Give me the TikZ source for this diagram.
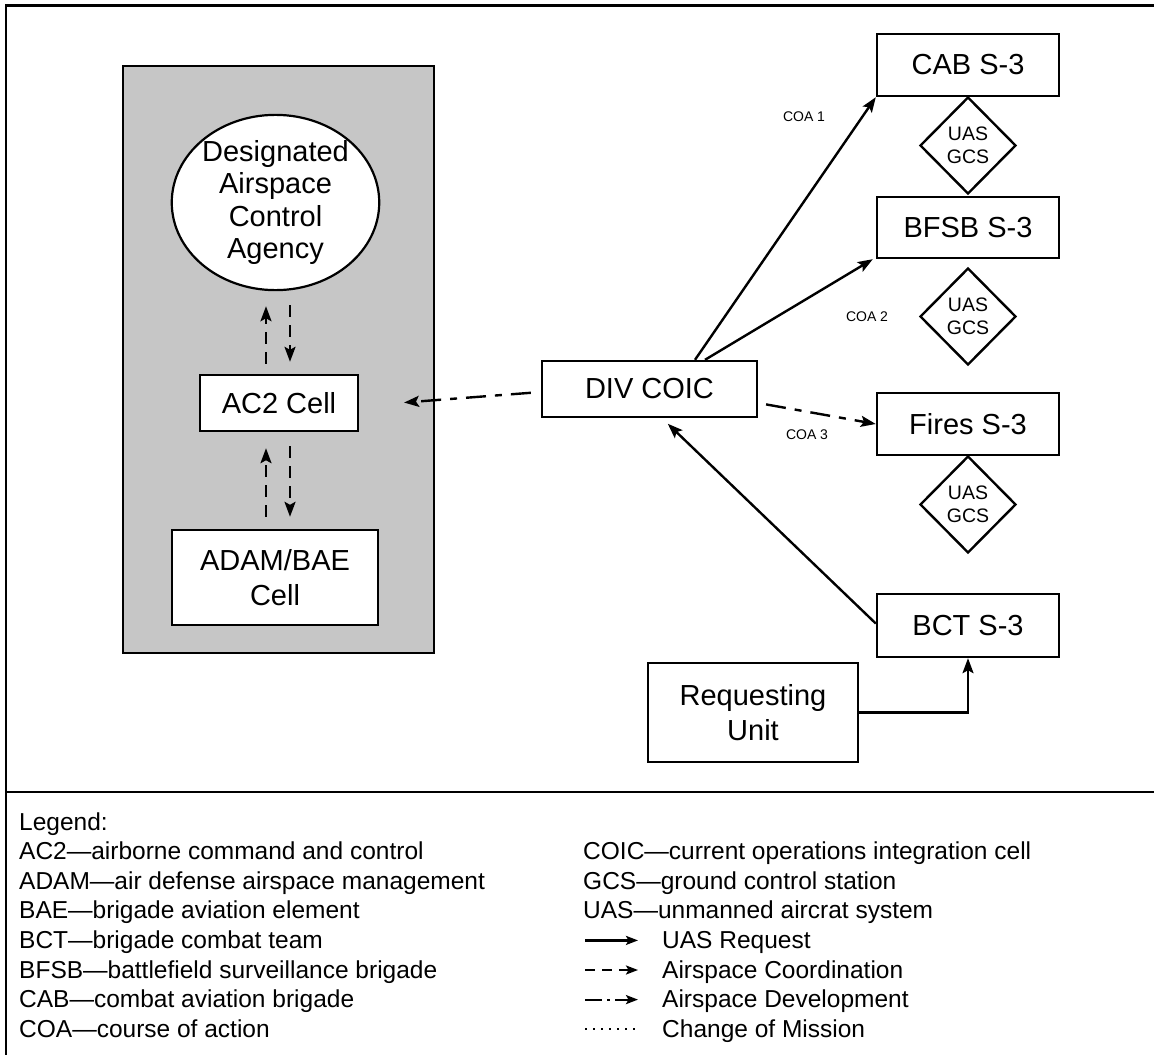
\documentclass[tikz,border=0pt]{standalone}
\usepackage{fontspec}
\setmainfont{Liberation Sans}
\usetikzlibrary{arrows.meta,shapes.geometric}
\definecolor{panelgray}{RGB}{198,198,198}
\begin{document}
\begin{tikzpicture}[x=1pt,y=-1pt,
  frame/.style={line width=2.4pt},
  panel/.style={draw, line width=2pt, fill=panelgray, inner sep=0pt},
  box/.style={draw, line width=2.4pt, fill=white, inner sep=0pt, align=center,
    font=\fontsize{29}{35}\selectfont},
  agency/.style={ellipse, draw, line width=2.2pt, fill=white, inner sep=0pt, align=center,
    font=\fontsize{29}{32.3}\selectfont},
  gcs/.style={diamond, draw, line width=2.4pt, fill=white, inner sep=0pt, align=center,
    minimum width=96pt, minimum height=97pt, font=\fontsize{19.5}{22.7}\selectfont},
  coalabel/.style={inner sep=0pt, font=\fontsize{14}{16}\selectfont},
  tip/.style={-{Stealth[length=15pt,width=11pt,inset=3pt]}},
  request/.style={line width=2.4pt, tip},
  coordination/.style={line width=2.4pt, dash pattern=on 12pt off 8pt, tip},
  development/.style={line width=2.4pt, dash pattern=on 20pt off 9pt on 7pt off 9pt, tip},
  legtext/.style={anchor=base west, inner sep=0pt, font=\fontsize{24.5}{29.6}\selectfont},
  legtip/.style={-{Stealth[length=12pt,width=9pt,inset=2.5pt]}},
]
\useasboundingbox (0,0) rectangle (1154,1055);
\fill[white] (0,0) rectangle (1154,1055);

% outer frame and legend separator
\draw[frame] (1154,5.5) -- (6,5.5) -- (6,1055);
\draw[frame] (6,792) -- (1154,792);

% airspace control panel
\node[panel, minimum width=311pt, minimum height=587pt] (adcpanel) at (278.5,359.5) {};
\node[agency, minimum width=205pt, minimum height=171pt] (dasp) at (275.5,202.5)
  {Designated\\Airspace\\Control\\Agency};
\node[box, minimum width=158pt, minimum height=56pt] (ac2) at (279,403) {AC2 Cell};
\node[box, minimum width=206pt, minimum height=95pt] (adam) at (275,577.5) {ADAM/BAE\\Cell};

% operations cells
\node[box, minimum width=215pt, minimum height=56pt] (div) at (649.5,389) {DIV COIC};
\node[box, minimum width=182pt, minimum height=62pt] (cab) at (968,65) {CAB S-3};
\node[box, minimum width=182pt, minimum height=61pt] (bfsb) at (968,227.5) {BFSB S-3};
\node[box, minimum width=182pt, minimum height=62pt] (fires) at (968,424) {Fires S-3};
\node[box, minimum width=182pt, minimum height=63pt] (bct) at (968,625.5) {BCT S-3};
\node[box, minimum width=210pt, minimum height=99pt] (req) at (753,712.5) {Requesting\\Unit};

% ground control stations
\node[gcs] (gcs1) at (968,145.5) {UAS\\GCS};
\node[gcs] (gcs2) at (968,316.5) {UAS\\GCS};
\node[gcs] (gcs3) at (968,504.5) {UAS\\GCS};

% course of action labels
\node[coalabel] (coa1) at (804,117) {COA 1};
\node[coalabel] (coa2) at (867,317) {COA 2};
\node[coalabel] (coa3) at (807,435) {COA 3};

% coordination inside the panel
\coordinate (ua) at (266,0);
\coordinate (da) at (290,0);
\draw[coordination, shorten <=10pt, shorten >=15pt] (ac2.north -| ua) -- (dasp.south -| ua);
\draw[coordination, shorten <=14pt, shorten >=12pt] (dasp.south -| da) -- (ac2.north -| da);
\draw[coordination, shorten <=12pt, shorten >=16pt] (adam.north -| ua) -- (ac2.south -| ua);
\draw[coordination, shorten <=14pt, shorten >=12pt] (ac2.south -| da) -- (adam.north -| da);

% airspace development
\draw[development, shorten <=10pt, shorten >=45pt] ([yshift=-3pt]div.west) -- ([yshift=-3pt]ac2.east);
\draw[development, shorten <=8pt] ([yshift=-14pt]div.east) -- (fires.west);

% UAS requests
\draw[request] ([xshift=45.5pt]div.north) -- (cab.south west);
\draw[request] ([xshift=55.5pt]div.north) -- ([xshift=-3pt]bfsb.south west);
\draw[request, shorten >=8pt] ([yshift=2pt]bct.west) -- ([xshift=12.5pt]div.south);
\draw[request] (req.east) -| (bct.south);

% legend
\node[legtext] (lg0) at (19,830) {Legend:};
\node[legtext] (lg1) at (19,859.6) {AC2—airborne command and control};
\node[legtext] (lg2) at (19,889.2) {ADAM—air defense airspace management};
\node[legtext] (lg3) at (19,918.8) {BAE—brigade aviation element};
\node[legtext] (lg4) at (19,948.4) {BCT—brigade combat team};
\node[legtext] (lg5) at (19,978) {BFSB—battlefield surveillance brigade};
\node[legtext] (lg6) at (19,1007.6) {CAB—combat aviation brigade};
\node[legtext] (lg7) at (19,1037.2) {COA—course of action};

\node[legtext] (lr1) at (583,859.6) {COIC—current operations integration cell};
\node[legtext] (lr2) at (583,889.2) {GCS—ground control station};
\node[legtext] (lr3) at (583,918.8) {UAS—unmanned aircrat system};
\node[legtext] (lr4) at (662,948.4) {UAS Request};
\node[legtext] (lr5) at (662,978) {Airspace Coordination};
\node[legtext] (lr6) at (662,1007.6) {Airspace Development};
\node[legtext] (lr7) at (662,1037.2) {Change of Mission};

\coordinate (s4) at (585,940.4); \coordinate (e4) at (638,940.4);
\coordinate (s5) at (585,970);   \coordinate (e5) at (638,970);
\coordinate (s6) at (585,999.6); \coordinate (e6) at (638,999.6);
\coordinate (s7) at (585,1029.2); \coordinate (e7) at (638,1029.2);
\draw[line width=2.2pt, legtip] (s4) -- (e4);
\draw[line width=2.2pt, dash pattern=on 10pt off 7pt, legtip] (s5) -- (e5);
\draw[line width=2.2pt, dash pattern=on 17pt off 5pt on 3pt off 5pt, legtip] (s6) -- (e6);
\draw[line width=1.6pt, dash pattern=on 2pt off 6pt] (s7) -- (e7);
\end{tikzpicture}
\end{document}
